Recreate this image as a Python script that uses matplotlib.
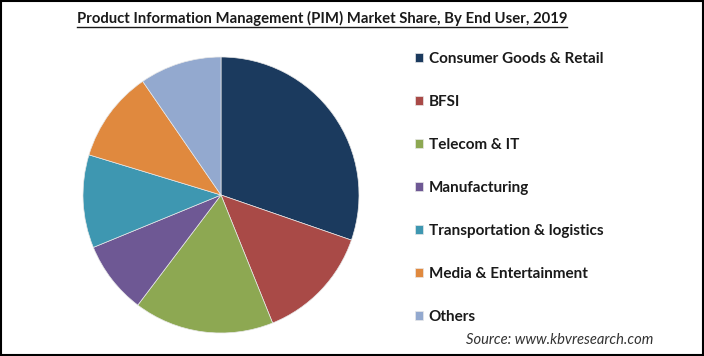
import matplotlib
matplotlib.use('Agg')
import matplotlib.pyplot as plt
from matplotlib.lines import Line2D
from matplotlib.patches import Rectangle

# data (share, %)
segments = ['Consumer Goods & Retail', 'BFSI', 'Telecom & IT', 'Manufacturing',
            'Transportation & logistics', 'Media & Entertainment', 'Others']
shares = [30.3, 13.6, 16.4, 8.5, 10.9, 10.7, 9.6]
colors = ['#1b3a5e', '#a94a47', '#8da852', '#6e5894', '#3e97b1', '#e0893e', '#93a9cf']

TITLE = 'Product Information Management (PIM) Market Share, By End User, 2019'
SOURCE = 'Source: www.kbvresearch.com'

W, H = 704, 356
fig = plt.figure(figsize=(W / 100, H / 100), dpi=100, facecolor='white')

# pie centred at (221, 195) px, radius ~138 px
cx, cy, r = 221, 195, 138
ax = fig.add_axes([(cx - r) / W, (H - cy - r) / H, 2 * r / W, 2 * r / H])
wedges, _ = ax.pie(shares, colors=colors, startangle=90, counterclock=False,
                   wedgeprops={'edgecolor': '#e8e8e8', 'linewidth': 0.5})
ax.set_xlim(-1, 1)
ax.set_ylim(-1, 1)
ax.set_aspect('equal')
ax.axis('off')

# legend
leg = fig.legend(wedges, segments, loc='upper left',
                 bbox_to_anchor=(415 / W, 1 - 52 / H), frameon=False,
                 prop={'family': 'Lato', 'weight': 'bold', 'size': 11},
                 handlelength=0.55, handleheight=0.55, handletextpad=0.35,
                 labelspacing=1.9, borderpad=0, borderaxespad=0)
for t in leg.get_texts():
    t.set_color('#1a1a1a')

# title with underline
title = fig.text(322 / W, 1 - 18 / H, TITLE, ha='center', va='center',
                 fontsize=10.7, fontweight='bold', family='Lato', color='#1a1a1a')
fig.canvas.draw()
bb = title.get_window_extent().transformed(fig.transFigure.inverted())
fig.add_artist(Line2D([bb.x0, bb.x1], [1 - 27 / H, 1 - 27 / H],
                      transform=fig.transFigure, color='#1a1a1a', linewidth=1))

fig.text(560 / W, 1 - 340 / H, SOURCE, ha='center', va='center',
         fontsize=10.6, style='italic', family='Lato', color='#333333')

# black frame around the image
fig.add_artist(Rectangle((0.001, 0.002), 0.997, 0.995, transform=fig.transFigure,
                         fill=False, edgecolor='black', linewidth=1.5))

fig.savefig('out.png', dpi=100, facecolor='white')
